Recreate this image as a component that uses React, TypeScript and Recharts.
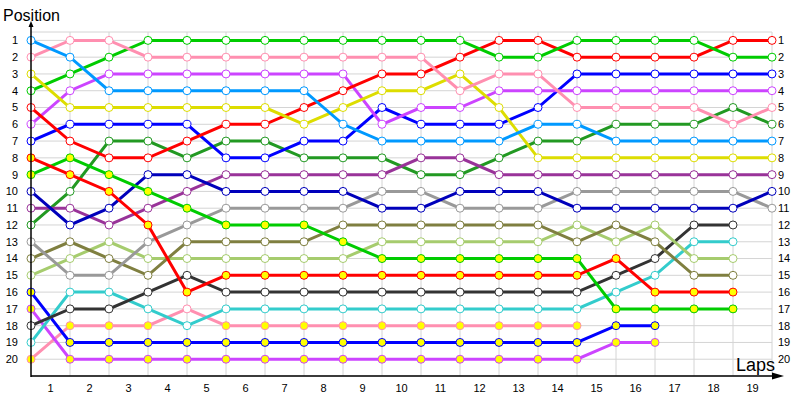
import { LineChart, Line, XAxis, YAxis, CartesianGrid, ReferenceLine } from "recharts";

// race position chart: one line per driver, lap 0 = grid
const laps = [0, 1, 2, 3, 4, 5, 6, 7, 8, 9, 10, 11, 12, 13, 14, 15, 16, 17, 18, 19];
const lapLabels = ["1", "2", "3", "4", "5", "6", "7", "8", "9", "10", "11", "12", "13", "14", "15", "16", "17", "18", "19"];
const positionTicks = [1, 2, 3, 4, 5, 6, 7, 8, 9, 10, 11, 12, 13, 14, 15, 16, 17, 18, 19, 20];

const lightBlue = [1, 2, 4, 4, 4, 4, 4, 4, 6, 7, 7, 7, 7, 6, 6, 7, 7, 7, 7, 7];
const pink1 = [2, 1, 1, 2, 2, 2, 2, 2, 2, 2, 2, 4, 3, 3, 5, 5, 5, 5, 6, 5];
const yellow = [3, 5, 5, 5, 5, 5, 5, 6, 5, 4, 4, 3, 5, 8, 8, 8, 8, 8, 8, 8];
const green1 = [4, 3, 2, 1, 1, 1, 1, 1, 1, 1, 1, 1, 2, 2, 1, 1, 1, 1, 2, 2];
const red1 = [5, 7, 8, 8, 7, 6, 6, 5, 4, 3, 3, 2, 1, 1, 2, 2, 2, 2, 1, 1];
const violet1 = [6, 4, 3, 3, 3, 3, 3, 3, 3, 6, 5, 5, 4, 4, 4, 4, 4, 4, 4, 4];
const blue1 = [7, 6, 6, 6, 6, 8, 8, 7, 7, 5, 6, 6, 6, 5, 3, 3, 3, 3, 3, 3];
const red2 = [8, 9, 10, 12, 16, 15, 15, 15, 15, 15, 15, 15, 15, 15, 15, 14, 16, 16, 16];
const green2 = [9, 8, 9, 10, 11, 12, 12, 12, 13, 14, 14, 14, 14, 14, 14, 17, 17, 17, 17];
const navy = [10, 12, 11, 9, 9, 10, 10, 10, 10, 11, 11, 10, 10, 10, 11, 11, 11, 11, 11, 10];
const purple = [11, 11, 12, 11, 10, 9, 9, 9, 9, 9, 8, 8, 9, 9, 9, 9, 9, 9, 9, 9];
const darkGreen = [12, 10, 7, 7, 8, 7, 7, 8, 8, 8, 9, 9, 8, 7, 7, 6, 6, 6, 5, 6];
const gray = [13, 15, 15, 13, 12, 11, 11, 11, 11, 10, 10, 11, 11, 11, 10, 10, 10, 10, 10, 11];
const olive = [14, 13, 14, 15, 13, 13, 13, 13, 12, 12, 12, 12, 12, 12, 13, 12, 13, 15, 15];
const lightGreen = [15, 14, 13, 14, 14, 14, 14, 14, 14, 13, 13, 13, 13, 13, 12, 13, 12, 14, 14];
const blue2 = [16, 19, 19, 19, 19, 19, 19, 19, 19, 19, 19, 19, 19, 19, 19, 18, 18];
const violet2 = [17, 20, 20, 20, 20, 20, 20, 20, 20, 20, 20, 20, 20, 20, 20, 19, 19];
const darkGray = [18, 17, 17, 16, 15, 16, 16, 16, 16, 16, 16, 16, 16, 16, 16, 15, 14, 12, 12];
const cyan = [19, 16, 16, 17, 18, 17, 17, 17, 17, 17, 17, 17, 17, 17, 17, 16, 15, 13, 13];
const pink2 = [20, 18, 18, 18, 17, 18, 18, 18, 18, 18, 18, 18, 18, 18, 18];

// laps whose marker is filled yellow
const red2Marked = [0, 1, 2, 3, 4, 5, 6, 7, 8, 9, 10, 11, 12, 13, 14, 15, 16, 17, 18];
const green2Marked = [0, 1, 2, 3, 4, 5, 6, 7, 8, 9, 10, 11, 12, 13, 14, 15, 16, 17, 18];
const blue2Marked = [0, 1, 2, 3, 4, 5, 6, 7, 8, 9, 10, 11, 12, 13, 14, 15, 16];
const violet2Marked = [0, 1, 2, 3, 4, 5, 6, 7, 8, 9, 10, 11, 12, 13, 14, 15, 16];
const pink2Marked = [0, 1, 2, 3, 5, 6, 7, 8, 9, 10, 11, 12, 13, 14];

const series = [
  { key: "pink2", values: pink2, color: "#ff8fb0", marked: pink2Marked },
  { key: "violet2", values: violet2, color: "#cc44ff", marked: violet2Marked },
  { key: "blue2", values: blue2, color: "#0000ff", marked: blue2Marked },
  { key: "cyan", values: cyan, color: "#33cccc", marked: [] },
  { key: "darkGray", values: darkGray, color: "#333333", marked: [] },
  { key: "lightGreen", values: lightGreen, color: "#a6cc6e", marked: [] },
  { key: "olive", values: olive, color: "#7f7f40", marked: [] },
  { key: "gray", values: gray, color: "#999999", marked: [] },
  { key: "darkGreen", values: darkGreen, color: "#229922", marked: [] },
  { key: "purple", values: purple, color: "#993399", marked: [] },
  { key: "navy", values: navy, color: "#0000bb", marked: [] },
  { key: "green2", values: green2, color: "#00cc00", marked: green2Marked },
  { key: "red2", values: red2, color: "#ff0000", marked: red2Marked },
  { key: "blue1", values: blue1, color: "#0000ff", marked: [] },
  { key: "violet1", values: violet1, color: "#cc44ff", marked: [] },
  { key: "red1", values: red1, color: "#ff0000", marked: [] },
  { key: "green1", values: green1, color: "#00cc00", marked: [] },
  { key: "yellow", values: yellow, color: "#dddd00", marked: [] },
  { key: "pink1", values: pink1, color: "#ff8fb0", marked: [] },
  { key: "lightBlue", values: lightBlue, color: "#0099ff", marked: [] },
];

const data = laps.map((lap, i) => {
  const row: Record<string, number | undefined> = { lap };
  series.forEach((s) => {
    row[s.key] = s.values[i];
  });
  return row;
});

const font = "'Liberation Sans', Arial, sans-serif";

export default function App() {
  return (
    <div style={{ position: "absolute", left: 0, top: 0, width: 800, height: 400, background: "#fff", fontFamily: font }}>
      <LineChart width={800} height={400} data={data} margin={{ top: 32, right: 0, bottom: 0, left: 0 }}>
        <CartesianGrid vertical={false} stroke="#d4d4d4" />
        {laps.slice(1).map((lap) => (
          <ReferenceLine key={lap} x={lap} stroke="#d4d4d4" />
        ))}
        <XAxis
          dataKey="lap"
          type="number"
          domain={[0, 19]}
          ticks={lapLabels.map((_, i) => i + 0.5)}
          tickFormatter={(v: number) => lapLabels[Math.floor(v)]}
          interval={0}
          axisLine={false}
          tickLine={false}
          height={24}
          tick={{ fill: "#000", fontSize: 11, fontFamily: font }}
        />
        <YAxis
          type="number"
          domain={[0.5, 21]}
          reversed
          ticks={positionTicks}
          interval={0}
          width={31}
          axisLine={false}
          tickLine={false}
          tickMargin={7}
          tick={{ fill: "#000", fontSize: 11, fontFamily: font }}
        />
        <YAxis
          yAxisId="right"
          orientation="right"
          type="number"
          domain={[0.5, 21]}
          reversed
          ticks={positionTicks}
          interval={0}
          width={28}
          axisLine={false}
          tickLine={false}
          tickMargin={0}
          tick={{ fill: "#000", fontSize: 11, fontFamily: font }}
        />
        {series.map((s, si) => (
          <Line
            key={s.key}
            // last series is bound to the right axis (same domain) so that axis gets drawn
            yAxisId={si === series.length - 1 ? "right" : 0}
            dataKey={s.key}
            stroke={s.color}
            strokeWidth={3}
            isAnimationActive={false}
            connectNulls={false}
            activeDot={false}
            dot={(p: any) => {
              if (p.value == null || p.cy == null) return <g key={`${s.key}-${p.index}`} />;
              const filled = s.marked.includes(p.index);
              return (
                <circle
                  key={`${s.key}-${p.index}`}
                  cx={p.cx}
                  cy={p.cy}
                  r={4}
                  fill={filled ? "#ffff00" : "#ffffff"}
                  stroke={s.color}
                  strokeWidth={1}
                />
              );
            }}
          />
        ))}
      </LineChart>
      <svg width={800} height={400} style={{ position: "absolute", left: 0, top: 0, pointerEvents: "none" }}>
        <line x1={31} y1={24} x2={31} y2={377} stroke="#000" strokeWidth={1.5} />
        <polygon points="31,21 28.5,27 33.5,27" fill="#000" />
        <line x1={31} y1={376} x2={776} y2={376} stroke="#000" strokeWidth={1.5} />
        <polygon points="784,376 772,372.5 772,379.5" fill="#000" />
        <text x={3} y={21} fontSize={16} fontFamily={font} fill="#000">Position</text>
        <text x={736} y={371} fontSize={18} fontFamily={font} fill="#000">Laps</text>
      </svg>
    </div>
  );
}
